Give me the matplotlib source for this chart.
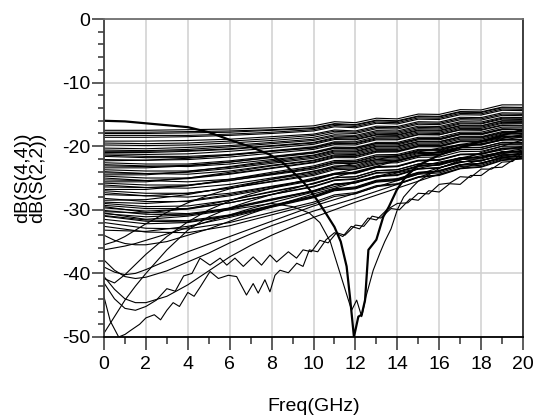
import matplotlib
matplotlib.use("Agg")
import matplotlib.pyplot as plt
from matplotlib.ticker import MultipleLocator

plt.rcParams['font.family'] = ['Liberation Sans', 'DejaVu Sans']
plt.rcParams['axes.unicode_minus'] = False

# frequency grids (GHz)
freq_band = [0, 2, 4, 6, 8, 10, 11, 12, 13, 14, 15, 16, 17, 18, 19, 20]
freq_low = [0, 0.5, 1, 1.5, 2, 3, 4, 5, 6, 7, 8, 10, 12, 14, 16, 18, 20]

# dB(S(2,2)) family, dense band
band_db = [
    [-17.5, -17.5, -17.4, -17.3, -17.1, -16.8, -16.15, -16.3, -15.6, -15.7, -14.95, -15.0, -14.25, -14.3, -13.5, -13.5],
    [-17.8, -17.8, -17.7, -17.6, -17.4, -17.1, -16.45, -16.6, -15.9, -16.0, -15.25, -15.3, -14.55, -14.6, -13.85, -13.9],
    [-18.0, -18.0, -17.9, -17.8, -17.5, -17.2, -16.55, -16.7, -16.0, -16.1, -15.35, -15.4, -14.65, -14.7, -13.95, -14.0],
    [-18.3, -18.3, -18.3, -18.1, -17.8, -17.4, -16.75, -16.9, -16.2, -16.3, -15.55, -15.6, -14.85, -14.9, -14.15, -14.2],
    [-18.6, -18.6, -18.5, -18.3, -18.0, -17.6, -16.95, -17.1, -16.4, -16.5, -15.75, -15.8, -15.05, -15.1, -14.35, -14.4],
    [-19.2, -19.2, -19.1, -18.9, -18.5, -18.1, -17.45, -17.6, -16.85, -16.9, -16.15, -16.2, -15.45, -15.5, -14.75, -14.8],
    [-19.5, -19.6, -19.5, -19.2, -18.8, -18.3, -17.65, -17.8, -17.05, -17.1, -16.35, -16.4, -15.65, -15.7, -14.95, -15.0],
    [-19.8, -19.9, -19.8, -19.5, -19.1, -18.6, -17.9, -18.0, -17.25, -17.3, -16.55, -16.6, -15.85, -15.9, -15.15, -15.2],
    [-20.3, -20.4, -20.2, -19.9, -19.4, -18.9, -18.2, -18.3, -17.55, -17.6, -16.85, -16.9, -16.15, -16.2, -15.45, -15.5],
    [-20.6, -20.7, -20.5, -20.1, -19.6, -19.1, -18.4, -18.5, -17.75, -17.8, -17.05, -17.1, -16.35, -16.4, -15.6, -15.6],
    [-20.8, -20.8, -20.7, -20.4, -19.9, -19.4, -18.65, -18.7, -17.95, -18.0, -17.25, -17.3, -16.5, -16.5, -15.75, -15.8],
    [-21.0, -21.0, -20.8, -20.5, -20.0, -19.5, -18.8, -18.9, -18.15, -18.2, -17.45, -17.5, -16.75, -16.8, -16.0, -16.0],
    [-21.2, -21.3, -21.2, -20.8, -20.3, -19.7, -18.95, -19.0, -18.25, -18.3, -17.55, -17.6, -16.8, -16.8, -16.05, -16.1],
    [-21.4, -21.6, -21.6, -21.3, -20.7, -20.1, -19.3, -19.3, -18.5, -18.5, -17.75, -17.8, -17.0, -17.0, -16.25, -16.3],
    [-21.6, -21.8, -21.8, -21.4, -20.8, -20.2, -19.45, -19.5, -18.7, -18.7, -17.95, -18.0, -17.2, -17.2, -16.4, -16.4],
    [-22.1, -22.2, -22.1, -21.7, -21.1, -20.5, -19.75, -19.8, -19.0, -19.0, -18.2, -18.2, -17.4, -17.4, -16.65, -16.7],
    [-22.3, -22.2, -21.9, -21.4, -20.8, -20.3, -19.55, -19.6, -18.85, -18.9, -18.15, -18.2, -17.45, -17.5, -16.75, -16.8],
    [-22.6, -22.8, -22.8, -22.3, -21.6, -20.9, -20.15, -20.2, -19.4, -19.4, -18.6, -18.6, -17.8, -17.8, -17.0, -17.0],
    [-22.9, -23.1, -23.2, -22.8, -22.1, -21.4, -20.6, -20.6, -19.8, -19.8, -19.0, -19.0, -18.2, -18.2, -17.4, -17.4],
    [-23.1, -23.2, -23.0, -22.5, -21.8, -21.1, -20.35, -20.4, -19.6, -19.6, -18.8, -18.8, -18.0, -18.0, -17.25, -17.3],
    [-23.4, -23.4, -23.1, -22.5, -21.7, -21.0, -20.25, -20.3, -19.55, -19.6, -18.85, -18.9, -18.1, -18.1, -17.35, -17.4],
    [-23.7, -23.9, -23.9, -23.3, -22.5, -21.7, -20.9, -20.9, -20.1, -20.1, -19.3, -19.3, -18.5, -18.5, -17.7, -17.7],
    [-24.0, -24.3, -24.4, -23.9, -23.0, -22.2, -21.35, -21.3, -20.5, -20.5, -19.7, -19.7, -18.9, -18.9, -18.1, -18.1],
    [-24.2, -24.3, -24.1, -23.5, -22.7, -21.9, -21.1, -21.1, -20.3, -20.3, -19.5, -19.5, -18.7, -18.7, -17.95, -18.0],
    [-24.5, -24.5, -24.0, -23.2, -22.3, -21.5, -20.75, -20.8, -20.0, -20.0, -19.25, -19.3, -18.55, -18.6, -17.85, -17.9],
    [-24.7, -25.0, -25.0, -24.3, -23.4, -22.5, -21.65, -21.6, -20.8, -20.8, -20.0, -20.0, -19.2, -19.2, -18.4, -18.4],
    [-25.0, -25.4, -25.6, -25.2, -24.3, -23.3, -22.45, -22.4, -21.55, -21.5, -20.65, -20.6, -19.8, -19.8, -19.0, -19.0],
    [-25.3, -25.4, -25.1, -24.4, -23.5, -22.6, -21.8, -21.8, -20.95, -20.9, -20.1, -20.1, -19.3, -19.3, -18.55, -18.6],
    [-25.6, -25.6, -25.0, -24.1, -23.1, -22.3, -21.5, -21.5, -20.7, -20.7, -19.9, -19.9, -19.15, -19.2, -18.45, -18.5],
    [-25.8, -26.1, -26.1, -25.4, -24.4, -23.4, -22.55, -22.5, -21.65, -21.6, -20.75, -20.7, -19.85, -19.8, -19.0, -19.0],
    [-26.1, -26.5, -26.6, -26.0, -25.0, -24.0, -23.1, -23.0, -22.1, -22.0, -21.15, -21.1, -20.25, -20.2, -19.4, -19.4],
    [-26.4, -26.5, -26.2, -25.4, -24.5, -23.6, -22.75, -22.7, -21.85, -21.8, -21.0, -21.0, -20.2, -20.2, -19.4, -19.4],
    [-26.8, -26.8, -26.2, -25.2, -24.1, -23.1, -22.25, -22.2, -21.35, -21.3, -20.5, -20.5, -19.7, -19.7, -18.9, -18.9],
    [-27.0, -27.4, -27.4, -26.6, -25.5, -24.4, -23.5, -23.4, -22.5, -22.4, -21.5, -21.4, -20.55, -20.5, -19.65, -19.6],
    [-27.3, -27.8, -28.0, -27.4, -26.3, -25.2, -24.25, -24.1, -23.2, -23.1, -22.2, -22.1, -21.25, -21.2, -20.35, -20.3],
    [-27.6, -27.8, -27.4, -26.6, -25.6, -24.6, -23.7, -23.6, -22.7, -22.6, -21.75, -21.7, -20.85, -20.8, -20.0, -20.0],
    [-28.2, -28.7, -28.7, -27.8, -26.6, -25.4, -24.45, -24.3, -23.35, -23.2, -22.3, -22.2, -21.3, -21.2, -20.3, -20.2],
    [-28.5, -28.4, -27.6, -26.4, -25.2, -24.2, -23.3, -23.2, -22.3, -22.2, -21.35, -21.3, -20.5, -20.5, -19.7, -19.7],
    [-28.8, -29.0, -28.6, -27.6, -26.4, -25.3, -24.35, -24.2, -23.3, -23.2, -22.3, -22.2, -21.35, -21.3, -20.45, -20.4],
    [-29.0, -29.5, -29.4, -28.5, -27.2, -25.9, -24.95, -24.8, -23.85, -23.7, -22.8, -22.7, -21.8, -21.7, -20.85, -20.8],
    [-29.3, -29.8, -29.8, -28.9, -27.6, -26.3, -25.3, -25.1, -24.15, -24.0, -23.05, -22.9, -21.95, -21.8, -20.9, -20.8],
    [-29.5, -30.4, -30.6, -29.8, -28.4, -27.0, -25.95, -25.7, -24.7, -24.5, -23.55, -23.4, -22.45, -22.3, -21.4, -21.3],
    [-29.7, -30.2, -29.9, -28.9, -27.6, -26.4, -25.4, -25.2, -24.25, -24.1, -23.15, -23.0, -22.1, -22.0, -21.1, -21.0],
    [-30.1, -30.7, -30.8, -29.9, -28.5, -27.1, -26.05, -25.8, -24.8, -24.6, -23.6, -23.4, -22.45, -22.3, -21.35, -21.2],
    [-30.3, -30.5, -29.8, -28.5, -27.1, -25.9, -24.95, -24.8, -23.85, -23.7, -22.8, -22.7, -21.85, -21.8, -20.95, -20.9],
    [-30.6, -31.1, -30.8, -29.7, -28.3, -27.0, -25.95, -25.7, -24.7, -24.5, -23.55, -23.4, -22.45, -22.3, -21.4, -21.3],
    [-30.9, -31.6, -31.7, -30.8, -29.3, -27.8, -26.7, -26.4, -25.35, -25.1, -24.1, -23.9, -22.9, -22.7, -21.75, -21.6],
    [-31.0, -31.8, -31.9, -30.9, -29.4, -27.9, -26.8, -26.5, -25.45, -25.2, -24.15, -23.9, -22.9, -22.7, -21.7, -21.5],
    [-31.5, -32.2, -32.0, -31.0, -29.5, -28.0, -26.9, -26.6, -25.55, -25.3, -24.25, -24.0, -23.0, -22.8, -21.8, -21.6],
    [-32.0, -32.9, -33.0, -32.0, -30.4, -28.8, -27.65, -27.3, -26.2, -25.9, -24.8, -24.5, -23.45, -23.2, -22.15, -21.9],
    [-32.6, -33.5, -33.6, -32.5, -30.8, -29.1, -27.9, -27.5, -26.35, -26.0, -24.9, -24.6, -23.55, -23.3, -22.25, -22.0],
    [-33.2, -33.4, -32.6, -31.2, -29.6, -28.1, -27.0, -26.7, -25.65, -25.4, -24.4, -24.2, -23.2, -23.0, -22.0, -21.8],
]

# lower members of the family
low_db = [
    [-34.0, -34.8, -35.3, -35.5, -35.5, -35.0, -34.0, -33.0, -31.8, -30.6, -29.5, -27.5, -25.7, -24.2, -22.8, -21.5, -20.4],
    [-35.5, -35.0, -34.2, -33.2, -32.2, -30.4, -28.9, -27.7, -26.7, -25.9, -25.2, -23.9, -22.7, -21.5, -20.3, -19.2, -18.2],
    [-36.3, -36.0, -35.7, -35.3, -34.8, -33.8, -32.8, -31.8, -30.8, -29.8, -28.9, -27.2, -25.5, -24.0, -22.5, -21.2, -20.0],
    [-37.9, -39.5, -40.5, -40.8, -40.6, -39.6, -38.2, -36.8, -35.2, -33.8, -32.5, -30.2, -28.2, -26.0, -23.8, -22.2, -21.0],
    [-40.5, -42.5, -44.0, -44.6, -44.6, -43.6, -41.8, -39.6, -37.4, -35.6, -34.0, -31.2, -28.8, -26.6, -24.4, -22.6, -21.2],
    [-39.0, -39.8, -40.2, -40.0, -39.4, -38.0, -36.6, -35.4, -34.2, -33.0, -31.8, -29.4, -27.4, -25.4, -23.4, -21.8, -20.6],
    [-40.8, -41.5, -40.2, -38.6, -37.0, -34.2, -31.9, -30.0, -28.6, -27.5, -26.6, -25.0, -23.6, -22.2, -20.9, -19.6, -18.5],
    [-49.4, -46.8, -44.2, -42.0, -40.0, -36.3, -33.2, -31.1, -29.7, -28.6, -27.6, -25.8, -24.0, -22.3, -20.8, -19.4, -18.2],
]

# two rippled low curves
freq_w1 = [0, 0.3, 0.7, 1.0, 1.3, 1.7, 2.0, 2.4, 2.7, 3.0, 3.3, 3.6, 4.0, 4.3, 4.6, 5.06, 5.46,
           5.93, 6.33, 6.8, 7.12, 7.36, 7.68, 7.92, 8.16, 8.4, 8.8, 9.2, 9.5, 9.8, 10.2, 10.6, 11.0,
           11.4, 11.8, 12.2, 12.6, 13.0, 13.5, 14.0, 14.5, 15.0, 15.5, 16.0, 16.5, 17.0, 17.5, 18.0,
           18.5, 19.0, 19.5, 20.0]
db_w1 = [-43.7, -47.5, -50.0, -49.6, -48.9, -48.0, -47.0, -46.5, -47.3, -45.8, -44.6, -45.2, -43.0, -43.6,
         -42.1, -39.7, -40.8, -40.3, -40.5, -43.4, -41.6, -43.1, -41.0, -42.9, -40.3, -39.5, -39.9, -38.4,
         -38.9, -36.3, -36.6, -34.7, -33.6, -34.2, -32.6, -33.0, -31.3, -31.6, -30.0, -29.0, -28.9, -27.4,
         -27.5, -26.0, -25.8, -24.8, -24.9, -23.6, -23.6, -22.5, -22.4, -20.9]
freq_w2 = [0, 0.5, 1.0, 1.5, 2.0, 2.5, 3.0, 3.4, 3.8, 4.2, 4.58, 5.06, 5.54, 5.86, 6.25, 6.65, 7.12, 7.52,
           7.92, 8.24, 8.8, 9.19, 9.5, 9.9, 10.3, 10.7, 11.1, 11.5, 12.0, 12.4, 12.8, 13.2, 13.7, 14.1,
           14.6, 15.0, 15.5, 16.0, 16.5, 17.0, 17.5, 18.0, 18.5, 19.0, 19.5, 20.0]
db_w2 = [-41.5, -44.0, -45.5, -45.8, -45.2, -44.2, -42.4, -42.8, -40.4, -40.0, -37.6, -38.7, -37.6, -38.7,
         -37.6, -38.9, -37.4, -38.7, -37.1, -38.2, -36.6, -37.6, -36.3, -36.6, -34.8, -35.2, -33.6, -34.0,
         -32.4, -32.6, -31.0, -31.3, -29.8, -30.0, -28.3, -28.5, -27.0, -27.2, -25.9, -26.0, -24.6, -24.6,
         -23.4, -23.3, -22.2, -21.6]

# thin curve with notch near 12 GHz
freq_n = [0, 2, 4, 6, 8, 9, 9.8, 10.3, 10.8, 11.27, 11.6, 11.82, 12.06, 12.3, 12.5, 12.85, 13.17, 13.4,
          13.7, 14.0, 14.3, 14.7, 15, 16, 17, 18, 19, 20]
db_n = [-30.5, -31.5, -31.0, -30.0, -29.0, -29.5, -30.5, -32.0, -35.0, -40.0, -43.5, -45.8, -44.2, -46.8,
        -43.7, -39.5, -36.8, -35.0, -33.0, -30.0, -28.0, -26.5, -25.5, -23.5, -22.2, -21.0, -20.0, -19.0]

# dB(S(4,4)), heavy trace
freq_h = [0, 1, 2, 3, 4, 5, 6, 7, 7.9, 8.5, 9, 9.5, 9.83, 10.2, 10.6, 11.0, 11.3, 11.58, 11.74, 11.93,
          12.14, 12.3, 12.46, 12.62, 13.0, 13.33, 13.6, 13.97, 14.4, 15, 16, 17, 18, 19, 20]
db_h = [-16.0, -16.1, -16.4, -16.7, -17.0, -17.8, -19.0, -20.1, -21.3, -22.5, -24.0, -25.6, -26.9, -28.6,
        -30.6, -32.7, -35.0, -38.9, -43.7, -50.0, -46.8, -46.5, -44.2, -36.3, -34.7, -31.1, -29.5, -26.9,
        -24.8, -23.0, -21.4, -20.2, -19.2, -18.3, -17.4]

fig = plt.figure(figsize=(5.35, 4.18), dpi=100)
ax = fig.add_axes([0.1944, 0.1938, 0.7832, 0.7607])

for row in band_db:
    ax.plot(freq_band, row, color='black', lw=0.8)
for row in low_db:
    ax.plot(freq_low, row, color='black', lw=0.8)
ax.plot(freq_w1, db_w1, color='black', lw=0.8)
ax.plot(freq_w2, db_w2, color='black', lw=0.8)
ax.plot(freq_n, db_n, color='black', lw=0.8)
ax.plot(freq_h, db_h, color='black', lw=1.6)

ax.set_xlim(0, 20)
ax.set_ylim(-50, 0)
ax.xaxis.set_major_locator(MultipleLocator(2))
ax.xaxis.set_minor_locator(MultipleLocator(1))
ax.yaxis.set_major_locator(MultipleLocator(10))
ax.yaxis.set_minor_locator(MultipleLocator(2))
ax.grid(True, which='major', color='#d0d0d0', lw=1.1)
ax.set_axisbelow(True)

ax.tick_params(axis='x', which='major', direction='out', length=9.5, width=1.3, color='#505050',
               labelsize=14, pad=4)
ax.tick_params(axis='x', which='minor', direction='out', length=5, width=1.3, color='#505050')
ax.tick_params(axis='y', which='major', direction='out', length=9, width=1.3, color='#505050',
               labelsize=14, pad=1)
ax.tick_params(axis='y', which='minor', direction='out', length=4.5, width=1.3, color='#505050')

ax.spines['bottom'].set_color('black')
ax.spines['left'].set_color('#404040')
ax.spines['top'].set_color('#707070')
ax.spines['right'].set_color('#303030')
for s in ax.spines.values():
    s.set_linewidth(1.3)

ax.set_xlabel('Freq(GHz)', fontsize=14, labelpad=18)
ax.set_ylabel('dB(S(4,4))\ndB(S(2,2))', fontsize=14, linespacing=0.9, labelpad=11)

fig.savefig('out.png', dpi=100)
